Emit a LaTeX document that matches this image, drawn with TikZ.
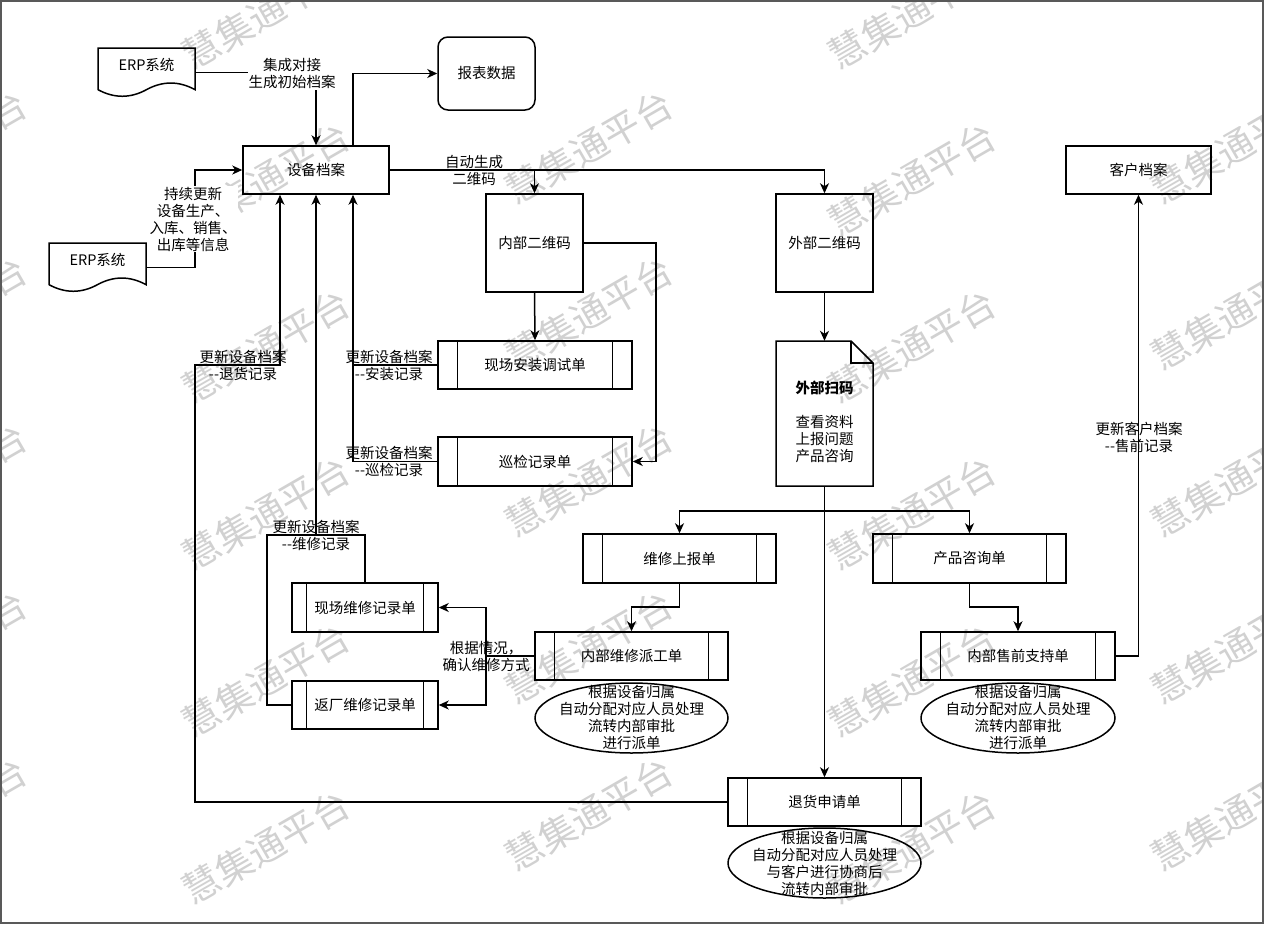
\documentclass[tikz,border=0pt]{standalone}
\usepackage{fontspec}
\setmainfont{Noto Sans CJK SC}
\usetikzlibrary{arrows.meta,calc,shapes.geometric}
\begin{document}
\begin{tikzpicture}[x=1pt,y=-1pt,
  every node/.style={font=\fontsize{14.5}{17}\selectfont, inner sep=0pt, text=black},
  box/.style={draw, line width=1.5pt, inner sep=0pt},
  proc/.style={box, path picture={
    \draw[line width=1.5pt] ($(path picture bounding box.north west)!0.1!(path picture bounding box.north east)$) -- ($(path picture bounding box.south west)!0.1!(path picture bounding box.south east)$);
    \draw[line width=1.5pt] ($(path picture bounding box.north west)!0.9!(path picture bounding box.north east)$) -- ($(path picture bounding box.south west)!0.9!(path picture bounding box.south east)$);
  }},
  ln/.style={line width=1.5pt, line join=miter},
  arr/.style={ln, -{Stealth[length=10pt,width=9pt,inset=3pt]}},
  lab/.style={align=center},
  wm/.style={text=black!18, font=\fontsize{37}{40}\selectfont, rotate=30}
]
\useasboundingbox (0,0) rectangle (1264,924);
\fill[white] (0,0) rectangle (1264,924);

% watermarks
\foreach \wx/\wy [count=\n] in {-57/147,-57/313,-57/480,-57/647,-57/814,
  589/147,589/313,589/480,589/647,589/814,
  1235/147,1235/313,1235/480,1235/647,1235/814,
  266/12,266/179,266/346,266/513,266/680,266/847,
  912/12,912/179,912/346,912/513,912/680,912/847}
  {\node[wm] (wm\n) at (\wx,\wy) {慧集通平台};}

% frame
\draw[black!65, line width=2pt] (1,1) rectangle (1263,923);

% ERP documents
\node[minimum width=97pt, minimum height=49pt] (erp1) at (146.5,72.5) {};
\draw[ln] (98,48) -- (195,48) -- (195,89.65) .. controls (178.83,80.83) and (162.67,80.83) .. (146.5,89.65) .. controls (130.33,98.47) and (114.17,98.47) .. (98,89.65) -- cycle;
\node (erp1t) at (146.5,65) {ERP系统};
\node[minimum width=97pt, minimum height=49pt] (erp2) at (97.5,267.5) {};
\draw[ln] (49,243) -- (146,243) -- (146,284.65) .. controls (129.83,275.83) and (113.67,275.83) .. (97.5,284.65) .. controls (81.33,293.47) and (65.17,293.47) .. (49,284.65) -- cycle;
\node (erp2t) at (97.5,260) {ERP系统};

% boxes
\node[box, rounded corners=10pt, minimum width=97pt, minimum height=73pt] (report) at (486.5,73.5) {报表数据};
\node[box, minimum width=146pt, minimum height=48pt] (sb) at (316,170) {设备档案};
\node[box, minimum width=145pt, minimum height=48pt] (cust) at (1138.5,170) {客户档案};
\node[box, minimum width=97pt, minimum height=98pt] (inner) at (534.5,243) {内部二维码};
\node[box, minimum width=97pt, minimum height=98pt] (outer) at (824.5,243) {外部二维码};
\node[proc, minimum width=194pt, minimum height=48pt] (install) at (535,365) {现场安装调试单};
\node[proc, minimum width=194pt, minimum height=49pt] (patrol) at (535,461.5) {巡检记录单};

% scan note
\node[minimum width=97pt, minimum height=145pt] (scan) at (824.5,413.5) {};
\draw[ln] (776,341) -- (851,341) -- (873,363) -- (873,486) -- (776,486) -- cycle;
\draw[ln] (851,341) -- (851,363) -- (873,363);
\node[lab] (scant) at (824.5,422) {\textbf{外部扫码}\\ \\查看资料\\上报问题\\产品咨询};

\node[proc, minimum width=193pt, minimum height=49pt] (rep) at (679.5,558.5) {维修上报单};
\node[proc, minimum width=193pt, minimum height=49pt] (cons) at (969.5,558.5) {产品咨询单};
\node[proc, minimum width=146pt, minimum height=49pt] (xcwx) at (365,607.5) {现场维修记录单};
\node[proc, minimum width=146pt, minimum height=48pt] (fcwx) at (365,705) {返厂维修记录单};
\node[proc, minimum width=193pt, minimum height=48pt] (disp) at (631.5,656) {内部维修派工单};
\node[proc, minimum width=194pt, minimum height=48pt] (pre) at (1018,656) {内部售前支持单};
\node[proc, minimum width=193pt, minimum height=48pt] (ret) at (824.5,802) {退货申请单};

% ellipses
\node[ellipse, draw, line width=1.5pt, minimum width=193pt, minimum height=70pt] (e1) at (631.5,718) {};
\node[lab] (e1t) at (631.5,717) {根据设备归属\\自动分配对应人员处理\\流转内部审批\\进行派单};
\node[ellipse, draw, line width=1.5pt, minimum width=194pt, minimum height=70pt] (e2) at (1018,718) {};
\node[lab] (e2t) at (1018,717) {根据设备归属\\自动分配对应人员处理\\流转内部审批\\进行派单};
\node[ellipse, draw, line width=1.5pt, minimum width=193pt, minimum height=70pt] (e3) at (824.5,863) {};
\node[lab] (e3t) at (824.5,863) {根据设备归属\\自动分配对应人员处理\\与客户进行协商后\\流转内部审批};

% connectors
\draw[arr] (erp1.east) -| (sb.north);
\draw[arr] ([xshift=37pt]sb.north) |- (report.west);
\draw[arr] (erp2.east) -- (195,267.5) |- (sb.west);
\draw[arr] (sb.east) -| (inner.north);
\draw[arr] (sb.east) -| (outer.north);
\draw[arr] (inner.south) -- (install.north);
\draw[arr] (inner.east) -- (656,243) |- (patrol.east);
\draw[ln] (install.west) -- (353,365);
\draw[arr] (patrol.west) -| ([xshift=37pt]sb.south);
\draw[arr] (ret.west) -| (195,365) -| ([xshift=-36pt]sb.south);
\coordinate (j1) at (316,535);
\draw[ln] (xcwx.north) |- (267,535) |- (fcwx.west);
\draw[arr] (j1) -- (sb.south);
\draw[arr] (disp.west) -| (486,607.5) -- (xcwx.east);
\draw[arr] (486,656) |- (fcwx.east);
\draw[arr] (outer.south) -- (scan.north);
\draw[arr] (scan.south) -- (ret.north);
\coordinate (br) at (824.5,511);
\draw[arr] (br) -| (rep.north);
\draw[arr] (br) -| (cons.north);
\draw[arr] (rep.south) -- (679.5,607) -| (disp.north);
\draw[arr] (cons.south) -- (969.5,607) -| (pre.north);
\draw[arr] (pre.east) -| (cust.south);

% labels
\node[lab, fill=white, inner sep=1pt] (l1) at (292,73.5) {集成对接\\生成初始档案};
\node[lab] (l2) at (474,170.5) {自动生成\\二维码};
\node[lab, fill=white, inner sep=1pt] (l3) at (193,219) {持续更新\\设备生产、\\入库、销售、\\出库等信息};
\node[lab] (l4) at (243,365) {更新设备档案\\-{}-退货记录};
\node[lab] (l5) at (389,365) {更新设备档案\\-{}-安装记录};
\node[lab] (l6) at (389,461) {更新设备档案\\-{}-巡检记录};
\node[lab] (l7) at (316,535) {更新设备档案\\-{}-维修记录};
\node[lab] (l8) at (486,656) {根据情况，\\确认维修方式};
\node[lab] (l9) at (1139,437.5) {更新客户档案\\-{}-售前记录};
\end{tikzpicture}
\end{document}
